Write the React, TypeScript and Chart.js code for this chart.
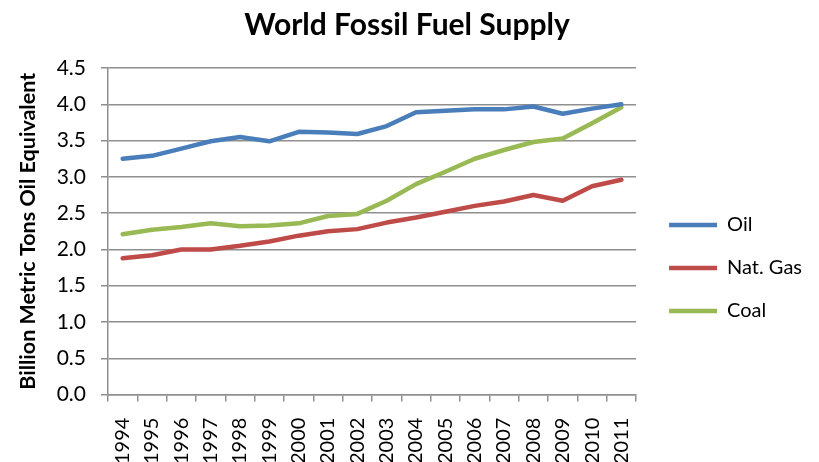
import React, { useEffect, useRef } from "react";
import { Chart, registerables } from "chart.js";

Chart.register(...registerables);

const years = ["1994","1995","1996","1997","1998","1999","2000","2001","2002","2003","2004","2005","2006","2007","2008","2009","2010","2011"];
const oil = [3.25, 3.29, 3.39, 3.49, 3.55, 3.49, 3.62, 3.61, 3.59, 3.70, 3.89, 3.91, 3.93, 3.93, 3.97, 3.87, 3.94, 4.00];
const natGas = [1.88, 1.92, 2.00, 2.00, 2.05, 2.11, 2.19, 2.25, 2.28, 2.37, 2.44, 2.52, 2.60, 2.66, 2.75, 2.67, 2.87, 2.96];
const coal = [2.21, 2.27, 2.31, 2.36, 2.32, 2.33, 2.36, 2.46, 2.49, 2.67, 2.90, 3.07, 3.25, 3.37, 3.48, 3.53, 3.74, 3.96];
const seriesNames = ["Oil", "Nat. Gas", "Coal"];
const seriesColors = ["#4A7EBB", "#BE4B48", "#98B954"];
const titleText = "World Fossil Fuel Supply";
const yTitle = "Billion Metric Tons Oil Equivalent";

const FONT = "Lato, 'Open Sans', sans-serif";
const LEGEND_GAP = 10;

const legendGapPlugin = {
  id: "legendGap",
  afterInit(chart: any) {
    const lg: any = chart.legend;
    if (!lg || lg.__wrapped) return;
    lg.__wrapped = true;
    const fit = lg.fit.bind(lg);
    lg.fit = function () {
      fit();
      this.width += LEGEND_GAP;
    };
    const draw = lg.draw.bind(lg);
    lg.draw = function () {
      this.left += LEGEND_GAP;
      draw();
      this.left -= LEGEND_GAP;
    };
  },
};

export default function App() {
  const ref = useRef<HTMLCanvasElement | null>(null);
  useEffect(() => {
    if (!ref.current) return;
    const values = [oil, natGas, coal];
    const chart = new Chart(ref.current, {
      type: "line",
      data: {
        labels: years,
        datasets: values.map((v, i) => ({
          label: seriesNames[i],
          data: v,
          borderColor: seriesColors[i],
          backgroundColor: seriesColors[i],
          borderWidth: 4.5,
          pointRadius: 0,
          tension: 0,
          borderCapStyle: "round" as const,
          borderJoinStyle: "round" as const,
          fill: false,
        })),
      },
      plugins: [legendGapPlugin],
      options: {
        responsive: false,
        animation: false,
        devicePixelRatio: 1,
        layout: { padding: { left: 2, right: 7, top: 0, bottom: -18 } },
        plugins: {
          title: {
            display: true,
            text: titleText,
            color: "#000",
            font: { family: FONT, size: 30, weight: "bold" },
            padding: { top: 7, bottom: 25 },
          },
          legend: {
            position: "right",
            align: "center",
            title: {
              display: true,
              text: " ",
              font: { family: FONT, size: 20 },
              padding: { top: 32, bottom: 0 },
            },
            labels: {
              usePointStyle: true,
              pointStyle: "line",
              pointStyleWidth: 48,
              color: "#000",
              font: { family: FONT, size: 20 },
              padding: 23,
            },
          },
          tooltip: { enabled: false },
        },
        scales: {
          x: {
            offset: true,
            grid: { display: true, drawOnChartArea: false, offset: true, tickLength: 7, color: "#8f8f8f", lineWidth: 1.5 },
            border: { color: "#8f8f8f", width: 1.5 },
            ticks: { color: "#000", font: { family: FONT, size: 20 }, maxRotation: 90, minRotation: 90, padding: 16, autoSkip: false },
          },
          y: {
            min: 0,
            max: 4.5,
            afterFit: (s: any) => { s.width = 106; },
            grid: { color: "#8f8f8f", lineWidth: 1.5, tickLength: 7 },
            border: { color: "#8f8f8f", width: 1.5 },
            ticks: {
              stepSize: 0.5,
              color: "#000",
              font: { family: FONT, size: 21 },
              padding: 15,
              callback: (v: any) => Number(v).toFixed(1),
            },
            title: {
              display: true,
              text: yTitle,
              color: "#000",
              font: { family: FONT, size: 21.5, weight: "bold" },
              padding: { top: 13, bottom: 0 },
            },
          },
        },
      },
    });
    return () => chart.destroy();
  }, []);
  return (
    <div style={{ position: "absolute", left: 0, top: 0, width: 819, height: 462, background: "#fff" }}>
      <canvas ref={ref} width={819} height={462} style={{ display: "block" }} />
    </div>
  );
}
